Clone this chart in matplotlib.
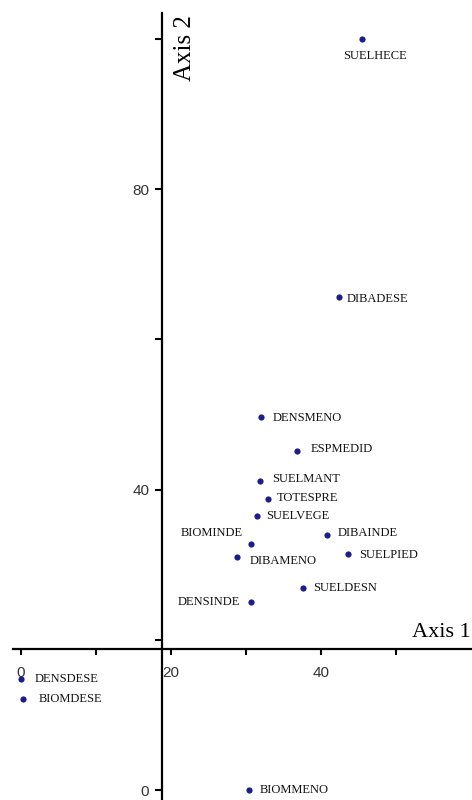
"""Biplot of sites on the first two ordination axes."""

import matplotlib.pyplot as plt

# station codes and their scores on the two axes
LABELS = [
    "SUELHECE", "DIBADESE", "DENSMENO", "ESPMEDID", "SUELMANT",
    "TOTESPRE", "SUELVEGE", "DIBAINDE", "BIOMINDE", "DIBAMENO",
    "SUELPIED", "SUELDESN", "DENSINDE", "DENSDESE", "BIOMDESE",
    "BIOMMENO",
]
AXIS1 = [
    45.5, 42.5, 32.1, 36.9, 31.9,
    33.0, 31.5, 40.8, 30.7, 28.9,
    43.6, 37.7, 30.7, 0.1, 0.3,
    30.4,
]
AXIS2 = [
    100.0, 65.6, 49.6, 45.2, 41.1,
    38.7, 36.5, 34.0, 32.8, 31.0,
    31.4, 26.9, 25.1, 14.8, 12.1,
    0.0,
]

X_TICKS = [0, 10, 20, 30, 40, 50]
X_TICK_LABELS = ["0", "", "20", "", "40", ""]
Y_TICKS = [0, 20, 40, 60, 80, 100]
Y_TICK_LABELS = ["0", "", "40", "", "80", ""]

# where the two axes cross
ORIGIN = 18.8

# label placement next to each dot, in pixels (dx to text edge, dy down)
LABEL_PLACE = {
    "SUELHECE": (-19, 17, "left"),
    "DIBADESE": (7, 2, "left"),
    "DENSMENO": (11, 1, "left"),
    "ESPMEDID": (13, -2, "left"),
    "SUELMANT": (12, -2.5, "left"),
    "TOTESPRE": (9, -1.5, "left"),
    "SUELVEGE": (9, 0.5, "left"),
    "DIBAINDE": (11, -2, "left"),
    "BIOMINDE": (-8, -11, "right"),
    "DIBAMENO": (12, 3.5, "left"),
    "SUELPIED": (11.5, 1, "left"),
    "SUELDESN": (9.5, 0, "left"),
    "DENSINDE": (-11, 0, "right"),
    "DENSDESE": (13, 0, "left"),
    "BIOMDESE": (15.5, 0, "left"),
    "BIOMMENO": (11, 0, "left"),
}

DOT = "#1c1c8c"
PX = 0.72  # points per pixel at 100 dpi

fig = plt.figure(figsize=(4.72, 8.0), dpi=100)
fig.patch.set_facecolor("white")
ax = fig.add_axes([0, 0, 1, 1])
ax.set_facecolor("white")
ax.set_xlim(-2.76, 60.17)
ax.set_ylim(-1.3, 105.15)

ax.scatter(AXIS1, AXIS2, s=20, color=DOT, linewidths=0, zorder=3)

for name, x, y in zip(LABELS, AXIS1, AXIS2):
    dx, dy, ha = LABEL_PLACE[name]
    ax.annotate(
        name, (x, y),
        xytext=(dx * PX, -dy * PX), textcoords="offset points",
        ha=ha, va="center", fontsize=9,
        family="Liberation Serif", color="#111111",
    )

for side in ("top", "right"):
    ax.spines[side].set_visible(False)
ax.spines["left"].set_position(("data", ORIGIN))
ax.spines["bottom"].set_position(("data", ORIGIN))
ax.spines["left"].set_bounds(-1.3, 103.4)
ax.spines["bottom"].set_bounds(-1.0, 60.17)
for side in ("left", "bottom"):
    ax.spines[side].set_linewidth(1.6)
    ax.spines[side].set_color("black")

ax.set_xticks(X_TICKS, X_TICK_LABELS)
ax.set_yticks(Y_TICKS, Y_TICK_LABELS)
ax.tick_params(axis="x", direction="out", length=4.5, width=1.5, pad=8,
               labelsize=11, labelcolor="#333333")
ax.tick_params(axis="y", direction="out", length=5, width=1.5, pad=4,
               labelsize=11, labelcolor="#333333")
for lab in ax.get_xticklabels() + ax.get_yticklabels():
    lab.set_family("Liberation Sans")

fig.text(471 / 472, 1 - 637 / 800, "Axis 1", ha="right", va="baseline",
         fontsize=16, family="Liberation Serif")
fig.text(185 / 472, 1 - 15 / 800, "Axis 2", ha="center", va="top",
         rotation=90, fontsize=18, family="Liberation Serif")

fig.savefig("out.png", dpi=100, facecolor="white")
